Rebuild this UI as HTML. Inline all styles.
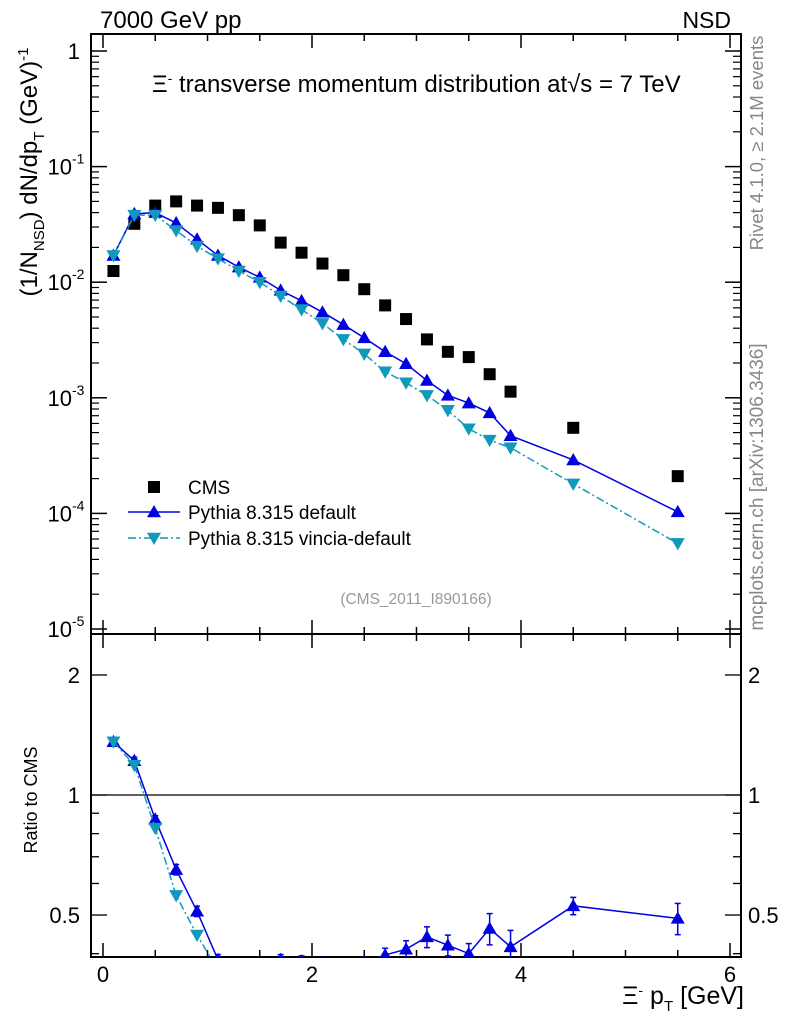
<!DOCTYPE html>
<html><head><meta charset="utf-8"><style>
body{margin:0;background:#fff;}
svg{display:block;font-family:"Liberation Sans",sans-serif;}
</style></head><body>
<svg id="c" width="786" height="1024" viewBox="0 0 786 1024">
<g id="g"></g>
</svg>
<script>
const xs=[0.1,0.3,0.5,0.7,0.9,1.1,1.3,1.5,1.7,1.9,2.1,2.3,2.5,2.7,2.9,3.1,3.3,3.5,3.7,3.9,4.5,5.5];
const cms=[0.0125,0.032,0.046,0.050,0.046,0.044,0.038,0.031,0.022,0.018,0.0145,0.0115,0.0087,0.0063,0.0048,0.0032,0.0025,0.00225,0.0016,0.00113,0.00055,0.00021];
const pyDef=[0.017,0.039,0.040,0.0325,0.0235,0.017,0.0135,0.0110,0.0085,0.0069,0.0055,0.0043,0.0033,0.0025,0.00197,0.00141,0.00105,0.00090,0.00074,0.00047,0.00029,0.000103];
const pyVin=[0.017,0.038,0.038,0.028,0.0205,0.016,0.0125,0.0100,0.0076,0.0058,0.0044,0.0032,0.0024,0.00168,0.00135,0.00105,0.00078,0.00054,0.00043,0.00037,0.00018,0.000055];
const ratioErr=[0.02,0.02,0.02,0.03,0.03,0.03,0.03,0.03,0.03,0.03,0.03,0.03,0.03,0.04,0.05,0.06,0.06,0.06,0.09,0.10,0.05,0.09];
const xTicks=[0,2,4,6];
const yDecades=[0,-1,-2,-3,-4,-5];
const rTicks=[0.5,1,2];

const L=91,R=741,T=34,M=634,B=957;
const X=v=>103+v*104.5;
const Y=v=>51-115.6*Math.log10(v);
const RY=v=>795-398.7*Math.log10(v);
const g=document.getElementById('g');
const NS='http://www.w3.org/2000/svg';
function mk(tag,attrs,parent){const e=document.createElementNS(NS,tag);for(const k in attrs)e.setAttribute(k,attrs[k]);(parent||g).appendChild(e);return e;}
function txt(s,x,y,size,attrs){const t=mk('text',Object.assign({x:x,y:y,'font-size':size},attrs||{}));t.textContent=s;return t;}

let f1=mk('rect',{x:L,y:T,width:R-L,height:M-T,fill:'none',stroke:'#000','stroke-width':2});


let f2=mk('rect',{x:L,y:M,width:R-L,height:B-M,fill:'none',stroke:'#000','stroke-width':2});



for(let v=0;v<=6.01;v+=0.5){
  const maj=Math.abs(v-Math.round(v/2)*2)<1e-6;
  const len=maj?14:7;
  for(const [yt,yb] of [[T,M],[M,B]]){
    mk('line',{x1:X(v),x2:X(v),y1:yb,y2:yb-len,stroke:'#000','stroke-width':1.5});
    mk('line',{x1:X(v),x2:X(v),y1:yt,y2:yt+len,stroke:'#000','stroke-width':1.5});
  }
}
xTicks.forEach(v=>{const t=txt(String(v),X(v),982,22,{'text-anchor':'middle'});

});

yDecades.forEach(d=>{
  const y=Y(Math.pow(10,d));
  mk('line',{x1:L,x2:L+16,y1:y,y2:y,stroke:'#000','stroke-width':1.5});
  mk('line',{x1:R,x2:R-16,y1:y,y2:y,stroke:'#000','stroke-width':1.5});
  let lab;
  if(d===0){lab=txt('1',80,59,22,{'text-anchor':'end'});}
  else{lab=txt('10',72,y+8,22,{'text-anchor':'end'});
    txt(String(d),72,y-3,14,{'text-anchor':'start'});}
  
  
  if(d>-5)for(let k=2;k<10;k++){const yy=Y(k*Math.pow(10,d-1));if(yy>M)continue;
    mk('line',{x1:L,x2:L+8,y1:yy,y2:yy,stroke:'#000','stroke-width':1.2});
    mk('line',{x1:R,x2:R-8,y1:yy,y2:yy,stroke:'#000','stroke-width':1.2});}
});
[0.4,0.5,0.6,0.7,0.8,0.9,1,2].forEach(v=>{const y=RY(v);const maj=(v===0.5||v===1||v===2);
  mk('line',{x1:L,x2:L+(maj?16:8),y1:y,y2:y,stroke:'#000','stroke-width':1.3});
  mk('line',{x1:R,x2:R-(maj?16:8),y1:y,y2:y,stroke:'#000','stroke-width':1.3});});
rTicks.forEach(v=>{const y=RY(v)+8;
  const s=v===0.5?'0.5':String(v);
  let a=txt(s,80,y,22,{'text-anchor':'end'});
  
  
  let b=txt(s,748,y,22,{'text-anchor':'start'});
  
  });
mk('line',{x1:L,x2:R,y1:RY(1),y2:RY(1),stroke:'#000','stroke-width':1.2});

const defs=mk('defs',{});
const c1=mk('clipPath',{id:'cm'},defs);mk('rect',{x:L,y:T,width:R-L,height:M-T},c1);
const c2=mk('clipPath',{id:'cr'},defs);mk('rect',{x:L,y:M,width:R-L,height:B-M},c2);
const gm=mk('g',{'clip-path':'url(#cm)'});
const gr=mk('g',{'clip-path':'url(#cr)'});

function tri(x,y,up,col,par){const s=7;
  const p=up?`${x},${y-s} ${x-s},${y+s*0.75} ${x+s},${y+s*0.75}`:`${x},${y+s} ${x-s},${y-s*0.75} ${x+s},${y-s*0.75}`;
  return mk('polygon',{points:p,fill:col},par);}

xs.forEach((x,i)=>{const r=mk('rect',{x:X(x)-6,y:Y(cms[i])-6,width:12,height:12,fill:'#000'},gm);
  
  });
const series=[[pyDef,'#0000e0',true,'none','pythia-default'],[pyVin,'#1199bb',false,'8,3,2,3','pythia-vincia']];
series.forEach(([d,col,up,dash,nm])=>{
  const l=mk('polyline',{points:xs.map((x,i)=>X(x)+','+Y(d[i])).join(' '),fill:'none',stroke:col,'stroke-width':1.5,'stroke-dasharray':dash},gm);
  
  
  xs.forEach((x,i)=>{const p=tri(X(x),Y(d[i]),up,col,gm);
    
    });
  const rl=mk('polyline',{points:xs.map((x,i)=>X(x)+','+RY(d[i]/cms[i])).join(' '),fill:'none',stroke:col,'stroke-width':1.5,'stroke-dasharray':dash},gr);
  
  
  xs.forEach((x,i)=>{const r=d[i]/cms[i];
    if(up){const e=ratioErr[i]*r;mk('line',{x1:X(x),x2:X(x),y1:RY(r+e),y2:RY(Math.max(r-e,0.01)),stroke:col,'stroke-width':1.5},gr);
      mk('line',{x1:X(x)-3,x2:X(x)+3,y1:RY(r+e),y2:RY(r+e),stroke:col,'stroke-width':1.5},gr);
      mk('line',{x1:X(x)-3,x2:X(x)+3,y1:RY(r-e),y2:RY(r-e),stroke:col,'stroke-width':1.5},gr);}
    const p=tri(X(x),RY(r),up,col,gr);
    
    });
});

let lg=mk('g',{});


mk('rect',{x:148,y:481,width:12,height:12,fill:'#000'},lg);
txt('CMS',188,494,19,{});
mk('line',{x1:128,x2:180,y1:512,y2:512,stroke:'#0000e0','stroke-width':1.5},lg);
tri(154,512,true,'#0000e0',lg);
txt('Pythia 8.315 default',188,519,19,{});
mk('line',{x1:128,x2:180,y1:538,y2:538,stroke:'#1199bb','stroke-width':1.5,'stroke-dasharray':'8,3,2,3'},lg);
tri(154,538,false,'#1199bb',lg);
txt('Pythia 8.315 vincia-default',188,545,19,{});
</script>
<svg width="786" height="1024" style="position:absolute;left:0;top:0">
<text x="100" y="28" font-size="24" font-family="Liberation Sans">7000 GeV pp</text>
<text x="731" y="28" font-size="23" text-anchor="end" font-family="Liberation Sans">NSD</text>
<text x="152" y="92" font-size="24" font-family="Liberation Sans">Ξ<tspan dy="-9" font-size="14">-</tspan><tspan dy="9"> transverse momentum distribution at</tspan><tspan>√s = 7 TeV</tspan></text>
<text x="416" y="604" font-size="15.5" fill="#999" text-anchor="middle" font-family="Liberation Sans">(CMS_2011_I890166)</text>
<text transform="translate(37,172) rotate(-90)" font-size="24" text-anchor="middle" font-family="Liberation Sans">(1/N<tspan dy="7" font-size="15">NSD</tspan><tspan dy="-7">) dN/dp</tspan><tspan dy="7" font-size="15">T</tspan><tspan dy="-7"> (GeV)</tspan><tspan dy="-9" font-size="15">-1</tspan></text>
<text transform="translate(37,800) rotate(-90)" font-size="18" text-anchor="middle" font-family="Liberation Sans">Ratio to CMS</text>
<text x="744" y="1004" font-size="25" text-anchor="end" font-family="Liberation Sans">Ξ<tspan dy="-9" font-size="14">-</tspan><tspan dy="9"> p</tspan><tspan dy="7" font-size="15">T</tspan><tspan dy="-7"> [GeV]</tspan></text>
<text transform="translate(763,143) rotate(-90)" font-size="18.5" fill="#888" text-anchor="middle" font-family="Liberation Sans">Rivet 4.1.0, ≥ 2.1M events</text>
<text transform="translate(763,487) rotate(-90)" font-size="19" fill="#888" text-anchor="middle" font-family="Liberation Sans">mcplots.cern.ch [arXiv:1306.3436]</text>
</svg>
</body></html>
